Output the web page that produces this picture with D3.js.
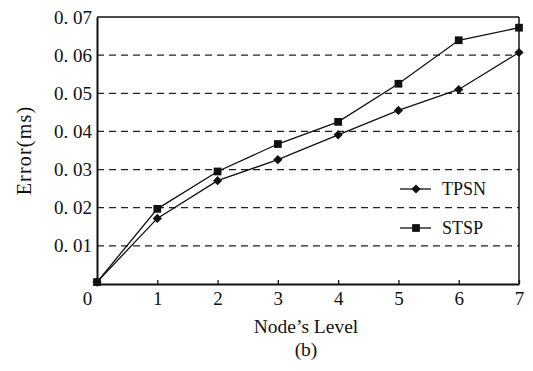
<!DOCTYPE html>
<html>
<head>
<meta charset="utf-8">
<script src="https://cdn.jsdelivr.net/npm/d3@7"></script>
<style>
  body { margin: 0; background: #fff; }
</style>
</head>
<body>
<script>
// Data
let levels = [0, 1, 2, 3, 4, 5, 6, 7];
let tpsn = [0.0005, 0.0172, 0.0271, 0.0326, 0.0391, 0.0455, 0.0510, 0.0607];
let stsp = [0.0005, 0.0197, 0.0295, 0.0367, 0.0425, 0.0525, 0.0639, 0.0672];
let yTicks = [0, 0.01, 0.02, 0.03, 0.04, 0.05, 0.06, 0.07];
let yTickLabels = ["", "0. 01", "0. 02", "0. 03", "0. 04", "0. 05", "0. 06", "0. 07"];
let seriesNames = ["TPSN", "STSP"];

let margin = { top: 17, right: 14, bottom: 87, left: 97 };
let width = 533 - margin.left - margin.right;
let height = 371 - margin.top - margin.bottom;

let svg = d3.select("body")
  .append("svg")
    .attr("width", 533)
    .attr("height", 371)
    .attr("font-family", "Liberation Serif")
  .append("g")
    .attr("transform", "translate(" + margin.left + "," + margin.top + ")");

let x = d3.scaleLinear().domain([0, 7]).range([0, width]);
let y = d3.scaleLinear().domain([0, 0.07]).range([height, 0]);

// dashed grid lines
svg.selectAll(".grid")
  .data(yTicks.filter(d => d > 0 && d < 0.07))
  .enter().append("line")
    .attr("x1", 0).attr("x2", width)
    .attr("y1", d => y(d)).attr("y2", d => y(d))
    .attr("stroke", "#222")
    .attr("stroke-width", 1.2)
    .attr("stroke-dasharray", "7,5");

// frame
svg.append("line").attr("x1", 0).attr("x2", width).attr("y1", 0).attr("y2", 0)
  .attr("stroke", "#111").attr("stroke-width", 1.5);
svg.append("line").attr("x1", width).attr("x2", width).attr("y1", 0).attr("y2", height)
  .attr("stroke", "#111").attr("stroke-width", 1.5);

// y axis
let yAxis = d3.axisLeft(y).tickValues(yTicks).tickSize(0).tickPadding(5)
  .tickFormat((d, i) => yTickLabels[i]);
let yg = svg.append("g").call(yAxis)
  .attr("font-family", "Liberation Serif").attr("font-size", 19);
yg.select(".domain").attr("stroke", "#111").attr("stroke-width", 2);
yg.selectAll("text").attr("fill", "#111");

// x axis with small inward ticks
let xAxis = d3.axisBottom(x).tickValues(levels).tickFormat(d3.format("d"))
  .tickSizeInner(-4).tickSizeOuter(0).tickPadding(8);
let xg = svg.append("g").attr("transform", "translate(0," + height + ")").call(xAxis)
  .attr("font-family", "Liberation Serif").attr("font-size", 19);
xg.select(".domain").attr("stroke", "#111").attr("stroke-width", 2.2);
xg.selectAll("line").attr("stroke", "#111").attr("stroke-width", 1.3);
xg.selectAll("text").attr("fill", "#111").attr("dx", d => d === 0 ? -10 : 0);

// lines
let line = d3.line().x((d, i) => x(levels[i])).y(d => y(d));
[tpsn, stsp].forEach(s => {
  svg.append("path").datum(s)
    .attr("d", line)
    .attr("fill", "none")
    .attr("stroke", "#111")
    .attr("stroke-width", 1.3);
});

let diamond = d3.symbol().type(d3.symbolSquare).size(42);
let square = d3.symbol().type(d3.symbolSquare).size(60);

svg.selectAll(".tp").data(tpsn).enter().append("path")
  .attr("d", diamond)
  .attr("transform", (d, i) => "translate(" + x(levels[i]) + "," + y(d) + ") rotate(45)")
  .attr("fill", "#111");
svg.selectAll(".st").data(stsp).enter().append("path")
  .attr("d", square)
  .attr("transform", (d, i) => "translate(" + x(levels[i]) + "," + y(d) + ")")
  .attr("fill", "#111");

// legend
let legend = svg.append("g").attr("transform", "translate(303,172)");
seriesNames.forEach((name, i) => {
  let g = legend.append("g").attr("transform", "translate(0," + (i * 39) + ")");
  g.append("line").attr("x1", 0).attr("x2", 31).attr("y1", 0).attr("y2", 0)
    .attr("stroke", "#111").attr("stroke-width", 1.3);
  g.append("path").attr("d", i === 0 ? diamond : square)
    .attr("transform", "translate(16,0)" + (i === 0 ? " rotate(45)" : "")).attr("fill", "#111");
  g.append("text").attr("x", 42).attr("y", 6).attr("font-size", 18)
    .attr("fill", "#111").text(name);
});

// axis titles
svg.append("text")
  .attr("transform", "translate(" + (-66) + "," + (height / 2) + ") rotate(-90)")
  .attr("text-anchor", "middle")
  .attr("font-size", 20)
  .attr("letter-spacing", 1.2)
  .attr("fill", "#111")
  .text("Error(ms)");

svg.append("text")
  .attr("x", width / 2 - 2).attr("y", height + 49)
  .attr("text-anchor", "middle")
  .attr("font-size", 19.5)
  .attr("fill", "#111")
  .text("Node’s Level");

svg.append("text")
  .attr("x", width / 2 - 2).attr("y", height + 72)
  .attr("text-anchor", "middle")
  .attr("font-size", 19.5)
  .attr("fill", "#111")
  .text("(b)");
</script>
</body>
</html>
